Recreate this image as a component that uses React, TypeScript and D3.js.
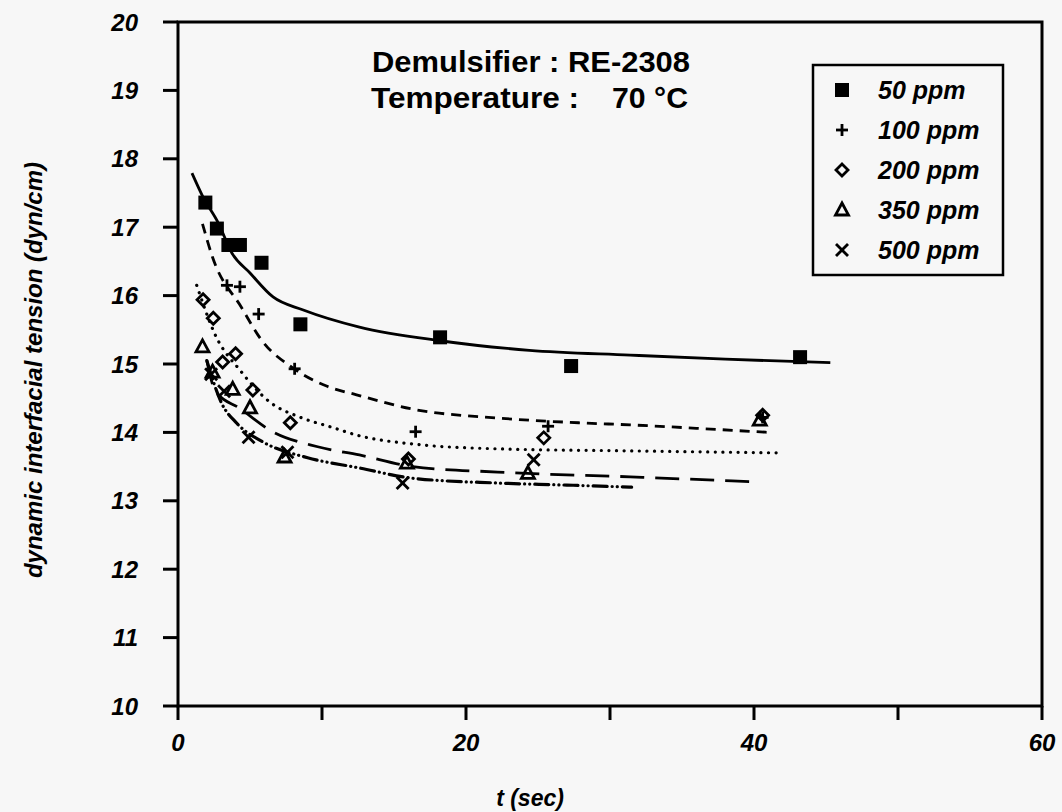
import React from "react";
import * as d3 from "d3";

const series = ["50 ppm", "100 ppm", "200 ppm", "350 ppm", "500 ppm"];

const t50 = [1.9, 2.7, 3.5, 4.3, 5.8, 8.5, 18.2, 27.3, 43.2];
const v50 = [17.36, 16.98, 16.74, 16.74, 16.48, 15.58, 15.39, 14.97, 15.1];
const t100 = [3.4, 4.3, 5.6, 8.1, 16.5, 25.7, 40.6];
const v100 = [16.15, 16.13, 15.73, 14.93, 14.01, 14.09, 14.22];
const t200 = [1.74, 2.45, 3.1, 4.0, 5.2, 7.8, 16.0, 25.4, 40.6];
const v200 = [15.94, 15.67, 15.03, 15.15, 14.62, 14.14, 13.61, 13.92, 14.25];
const t350 = [1.7, 2.4, 3.8, 5.0, 7.4, 15.9, 24.3, 40.4];
const v350 = [15.25, 14.88, 14.63, 14.36, 13.64, 13.55, 13.4, 14.18];
const t500 = [2.3, 3.2, 4.9, 7.6, 15.6, 24.7];
const v500 = [14.85, 14.6, 13.93, 13.71, 13.26, 13.6];

// fitted curves
const c50t = [0.97, 1.74, 2.8, 3.75, 5.0, 6.6, 8.7, 12.6, 18.2, 24.4, 31.4, 38, 45.3];
const c50v = [17.79, 17.44, 17.06, 16.62, 16.33, 15.98, 15.79, 15.54, 15.34, 15.2, 15.13, 15.07, 15.02];
const c100t = [1.7, 2.4, 4.4, 5.8, 8.0, 10.4, 12.4, 16.3, 22.2, 27.9, 31.4, 36, 41];
const c100v = [17.05, 16.56, 15.83, 15.35, 14.94, 14.67, 14.55, 14.34, 14.21, 14.14, 14.11, 14.06, 14.0];
const c200t = [1.3, 2.6, 4.3, 6.4, 8.5, 10.6, 12.6, 16.3, 22.2, 31.4, 42];
const c200v = [16.15, 15.42, 14.91, 14.44, 14.22, 14.08, 13.95, 13.83, 13.76, 13.73, 13.7];
const c350t = [2.0, 2.6, 4.3, 6.4, 9.7, 12.6, 16.3, 22.2, 31.4, 39.7];
const c350v = [15.05, 14.6, 14.35, 14.03, 13.79, 13.67, 13.5, 13.42, 13.35, 13.28];
const c500t = [2.0, 3.0, 4.1, 5.9, 9.0, 12.6, 16.3, 22.2, 27, 31.5];
const c500v = [15.05, 14.44, 14.13, 13.86, 13.63, 13.48, 13.33, 13.26, 13.23, 13.2];

const yTicks = [10, 11, 12, 13, 14, 15, 16, 17, 18, 19, 20];
const xTicks = [0, 10, 20, 30, 40, 50, 60];
const xLabels = [0, 20, 40, 60];

const W = 1062, H = 812;
const x = d3.scaleLinear().domain([0, 60]).range([178, 1042]);
const y = d3.scaleLinear().domain([10, 20]).range([706, 22]);

const FONT = "'Liberation Sans', Arial, Helvetica, sans-serif";

function zip(a: number[], b: number[]): [number, number][] {
  return a.map((v, i) => [v, b[i]]);
}

const line = d3
  .line<[number, number]>()
  .x((d) => x(d[0]))
  .y((d) => y(d[1]))
  .curve(d3.curveMonotoneX);

function Marker({ kind, cx, cy }: { kind: number; cx: number; cy: number }) {
  const sw = 2.8;
  if (kind === 0) return <rect x={cx - 7} y={cy - 7} width={14} height={14} fill="#000" />;
  if (kind === 1)
    return (
      <g stroke="#000" strokeWidth={sw}>
        <line x1={cx - 6} y1={cy} x2={cx + 6} y2={cy} />
        <line x1={cx} y1={cy - 6} x2={cx} y2={cy + 6} />
      </g>
    );
  if (kind === 2)
    return (
      <path
        d={`M${cx},${cy - 6}L${cx + 6},${cy}L${cx},${cy + 6}L${cx - 6},${cy}Z`}
        fill="none"
        stroke="#000"
        strokeWidth={sw}
      />
    );
  if (kind === 3)
    return (
      <path
        d={`M${cx},${cy - 7}L${cx + 6.5},${cy + 5}L${cx - 6.5},${cy + 5}Z`}
        fill="none"
        stroke="#000"
        strokeWidth={sw}
        strokeLinejoin="miter"
      />
    );
  return (
    <g stroke="#000" strokeWidth={sw}>
      <line x1={cx - 6} y1={cy - 6} x2={cx + 6} y2={cy + 6} />
      <line x1={cx - 6} y1={cy + 6} x2={cx + 6} y2={cy - 6} />
    </g>
  );
}

const pts = [
  zip(t50, v50),
  zip(t100, v100),
  zip(t200, v200),
  zip(t350, v350),
  zip(t500, v500),
];
const curves = [
  zip(c50t, c50v),
  zip(c100t, c100v),
  zip(c200t, c200v),
  zip(c350t, c350v),
  zip(c500t, c500v),
];
const dashes = ["", "10,7", "0.1,7.5", "24,11", "14,5,0.1,5,0.1,5"];
const caps = ["butt", "butt", "round", "butt", "round"];

export default function App() {
  return (
    <svg
      width={W}
      height={H}
      style={{ position: "absolute", left: 0, top: 0, background: "#f7f7f7" }}
      fontFamily={FONT}
    >
      <rect x={0} y={0} width={W} height={H} fill="#f7f7f7" />
      {/* frame */}
      <rect x={x(0)} y={y(20)} width={x(60) - x(0)} height={y(10) - y(20)} fill="none" stroke="#000" strokeWidth={3} />
      {yTicks.map((v) => (
        <g key={"y" + v}>
          <line x1={x(0) - 15} x2={x(0)} y1={y(v)} y2={y(v)} stroke="#000" strokeWidth={3} />
          <text x={138} y={y(v)} dy="0.36em" textAnchor="end" fontSize={24} fontWeight="bold" fontStyle="italic">
            {v}
          </text>
        </g>
      ))}
      {xTicks.map((v) => (
        <line key={"x" + v} x1={x(v)} x2={x(v)} y1={y(10)} y2={y(10) + 14} stroke="#000" strokeWidth={3} />
      ))}
      {xLabels.map((v) => (
        <text key={"xl" + v} x={x(v)} y={751} textAnchor="middle" fontSize={24} fontWeight="bold" fontStyle="italic">
          {v}
        </text>
      ))}
      <text x={530} y={806} textAnchor="middle" fontSize={23} fontWeight="bold" fontStyle="italic">
        t (sec)
      </text>
      <text
        transform={`translate(42,370) rotate(-90)`}
        textAnchor="middle"
        fontSize={24}
        fontWeight="bold"
        fontStyle="italic"
      >
        dynamic interfacial tension (dyn/cm)
      </text>
      {/* title */}
      <text x={372} y={72} fontSize={29} fontWeight="bold" textLength={318} lengthAdjust="spacingAndGlyphs">
        Demulsifier : RE-2308
      </text>
      <text x={371} y={108} fontSize={29} fontWeight="bold" textLength={208} lengthAdjust="spacingAndGlyphs">
        Temperature :
      </text>
      <text x={612} y={108} fontSize={29} fontWeight="bold" textLength={76} lengthAdjust="spacingAndGlyphs">
        {"70 \u00B0C"}
      </text>
      {/* curves */}
      {curves.map((c, i) => (
        <path
          key={"c" + i}
          d={line(c) || ""}
          fill="none"
          stroke="#000"
          strokeWidth={i === 2 || i === 4 ? 3.2 : 2.8}
          strokeDasharray={dashes[i]}
          strokeLinecap={caps[i] as any}
        />
      ))}
      {/* markers */}
      {pts.map((p, i) =>
        p.map((d, j) => <Marker key={i + "-" + j} kind={i} cx={x(d[0])} cy={y(d[1])} />)
      )}
      {/* legend */}
      <rect x={813} y={65} width={190} height={210} fill="#f7f7f7" stroke="#000" strokeWidth={2.5} />
      {series.map((s, i) => (
        <g key={"l" + i}>
          <Marker kind={i} cx={842} cy={90 + i * 40} />
          <text x={878} y={90 + i * 40} dy="0.36em" fontSize={25} fontWeight="bold" fontStyle="italic">
            {s}
          </text>
        </g>
      ))}
    </svg>
  );
}
